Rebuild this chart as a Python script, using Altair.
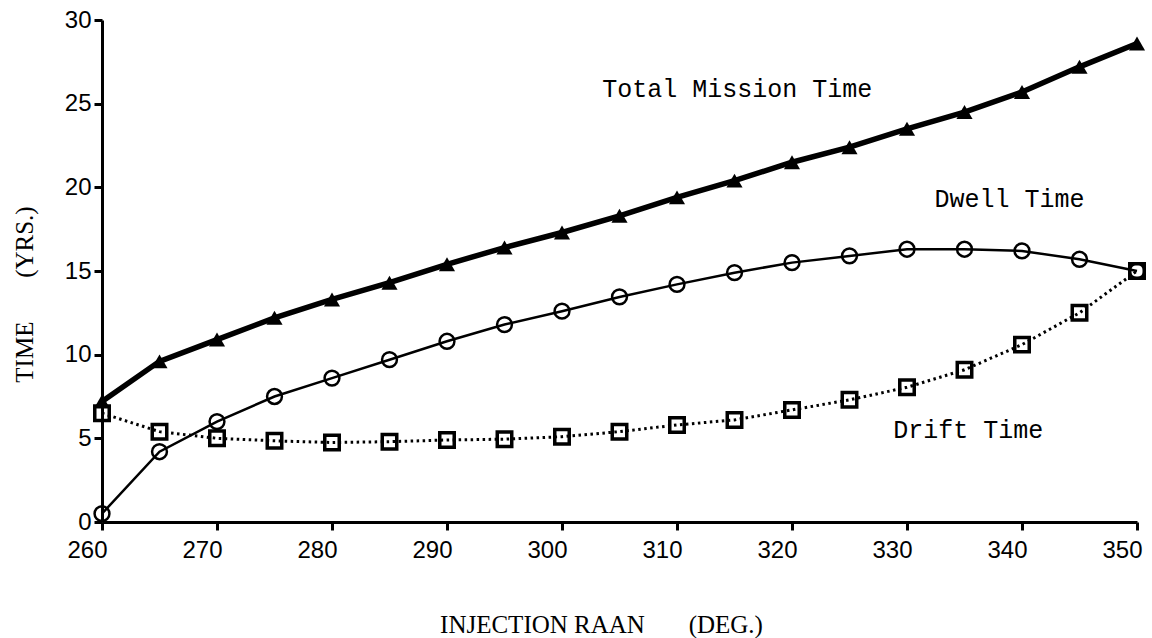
import altair as alt
import pandas as pd

# ---- data ----
raan = [260, 265, 270, 275, 280, 285, 290, 295, 300, 305,
        310, 315, 320, 325, 330, 335, 340, 345, 350]
total_time = [7.2, 9.6, 10.9, 12.2, 13.3, 14.3, 15.4, 16.4, 17.3, 18.3,
              19.4, 20.4, 21.5, 22.4, 23.5, 24.5, 25.7, 27.2, 28.6]
dwell_time = [0.5, 4.2, 6.0, 7.5, 8.6, 9.7, 10.8, 11.8, 12.6, 13.45,
              14.2, 14.9, 15.5, 15.9, 16.3, 16.3, 16.2, 15.7, 15.0]
drift_time = [6.5, 5.4, 5.0, 4.85, 4.75, 4.8, 4.9, 4.95, 5.1, 5.4,
              5.8, 6.1, 6.7, 7.3, 8.05, 9.1, 10.6, 12.5, 15.0]

x_ticks = [260, 270, 280, 290, 300, 310, 320, 330, 340, 350]
y_ticks = [0, 5, 10, 15, 20, 25, 30]

label_text = ["Total Mission Time", "Dwell Time", "Drift Time"]
label_x = [303.5, 332.4, 328.8]
label_y = [25.4, 18.8, 5.0]

df = pd.DataFrame({"raan": raan, "total": total_time,
                   "dwell": dwell_time, "drift": drift_time})
labels = pd.DataFrame({"raan": label_x, "value": label_y, "text": label_text})

NB = "\u00a0"
TICK_FONT = "Liberation Sans Narrow, Liberation Sans, sans-serif"

x_axis = alt.Axis(
    values=x_ticks, grid=False, domainColor="black", domainWidth=3,
    tickColor="black", tickWidth=3, tickSize=8, labelFlush=False,
    labelFont=TICK_FONT, labelFontSize=24, labelColor="black", labelPadding=8,
    labelAlign="right", labelOffset=5,
    titleFont="Liberation Serif", titleFontSize=25, titleFontWeight="normal",
    titleColor="black", titleX=499, titleY=110, titleAlign="center",
    titleBaseline="alphabetic", titleAngle=0,
)
y_axis = alt.Axis(
    values=y_ticks, grid=False, domainColor="black", domainWidth=3,
    tickColor="black", tickWidth=3, tickSize=8, labelFlush=False,
    labelFont=TICK_FONT, labelFontSize=24, labelColor="black", labelPadding=3,
    titleFont="Liberation Serif", titleFontSize=25, titleFontWeight="normal",
    titleColor="black", titleX=-78, titleY=274, titleAlign="center",
    titleBaseline="middle", titleAngle=270,
)

X_TITLE = "INJECTION RAAN" + NB * 7 + "(DEG.)"
Y_TITLE = "TIME" + NB * 7 + "(YRS.)"

xs = alt.Scale(domain=[260, 350], nice=False, zero=False)
ys = alt.Scale(domain=[0, 30], nice=False, zero=True)


def X():
    return alt.X("raan:Q", scale=xs, axis=x_axis, title=X_TITLE)


def Y(field):
    return alt.Y(field + ":Q", scale=ys, axis=y_axis, title=Y_TITLE)


base = alt.Chart(df)

drift_line = base.mark_line(color="black", strokeWidth=3, strokeDash=[2.5, 3.5]).encode(
    x=X(), y=Y("drift"))
drift_pts = base.mark_point(shape="square", filled=False, size=210, strokeWidth=3.5,
                            color="black", opacity=1).encode(x=X(), y=Y("drift"))

dwell_line = base.mark_line(color="black", strokeWidth=2.5).encode(x=X(), y=Y("dwell"))
dwell_pts = base.mark_point(shape="circle", filled=False, size=220, strokeWidth=2.5,
                            color="black", opacity=1).encode(x=X(), y=Y("dwell"))

total_line = base.mark_line(color="black", strokeWidth=5.5).encode(x=X(), y=Y("total"))
total_pts = base.mark_point(shape="triangle-up", filled=True, size=260,
                            color="black", opacity=1).encode(x=X(), y=Y("total"))

text = alt.Chart(labels).mark_text(
    align="left", baseline="alphabetic", font="Liberation Mono",
    fontSize=25, color="black").encode(x=X(), y=Y("value"), text="text:N")

chart = alt.layer(
    drift_line, drift_pts, dwell_line, dwell_pts, total_line, total_pts, text
).properties(
    width=1035, height=502,
    autosize=alt.AutoSizeParams(type="none"),
    padding={"left": 102, "top": 20, "right": 15, "bottom": 116},
    background="white",
).configure_view(stroke=None)

chart.save("out.html", embed_options={"renderer": "svg", "actions": False})
